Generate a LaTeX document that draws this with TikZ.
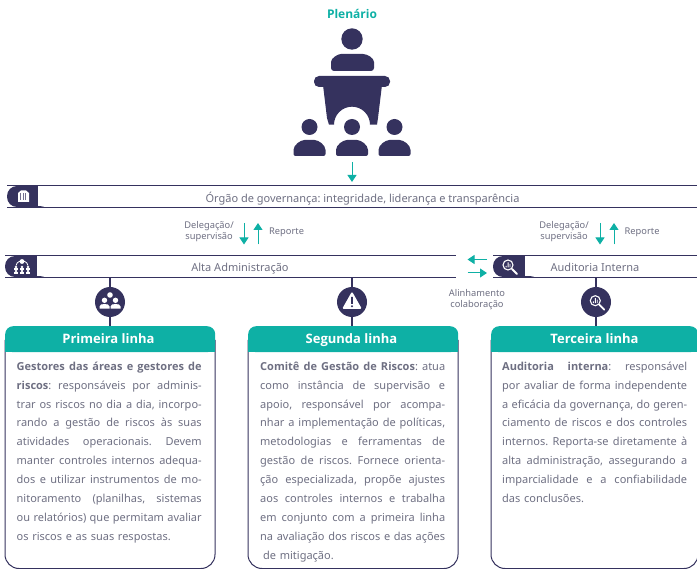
\documentclass[tikz,border=0pt]{standalone}
\usepackage{fontspec}
\setmainfont{Noto Sans}[BoldFont={Open Sans Bold}]
\usetikzlibrary{arrows.meta,positioning,calc}
\definecolor{navy}{HTML}{35325E}
\definecolor{tealc}{HTML}{0EB0A5}
\definecolor{greytxt}{HTML}{6E6F82}
\newcommand{\jline}[1]{{\spaceskip=0pt\xspaceskip=0pt\makebox[185pt][s]{#1}}\\}
\frenchspacing
\tikzset{
  barlabel/.style={text=greytxt,font=\fontsize{11}{13}\selectfont,inner sep=0pt},
  smalllabel/.style={text=greytxt,font=\fontsize{9.3}{11}\selectfont,inner sep=0pt,align=center},
  barline/.style={navy,line width=1pt},
  linkline/.style={navy,line width=1.5pt},
  tealarrow/.style={tealc,line width=1pt,-{Triangle[length=7pt,width=9pt]}},
  iconcircle/.style={circle,fill=navy,minimum size=30pt,inner sep=0pt},
  headbox/.style={fill=tealc,rounded corners=8pt,inner sep=0pt},
  headtext/.style={text=white,font=\fontsize{13}{15}\selectfont\bfseries,inner sep=0pt,anchor=base},
  bodytext/.style={text=greytxt,font=\fontsize{11}{18.95}\selectfont,inner sep=0pt,align=left,text width=185pt,anchor=north west},
  lens/.pic={
    \draw[white,line width=1.1pt] (0,0) circle (5);
    \draw[white,line width=1.8pt,line cap=round] (4,4) -- (9,9);
    \fill[white] (-2.4,0.8) rectangle (-1.5,2.4) (-0.5,-2.6) rectangle (0.5,2.4) (1.5,-1) rectangle (2.4,2.4);
  },
  person/.pic={
    \fill[white] (0,-3.7) circle (2.7);
    \fill[white] (-5,4.7) -- (-5,2.5) .. controls (-5,0.5) and (-2.5,0) .. (0,0) .. controls (2.5,0) and (5,0.5) .. (5,2.5) -- (5,4.7) -- cycle;
  },
}
\begin{document}
\begin{tikzpicture}[x=1pt,y=-1pt]
  \useasboundingbox (0,0) rectangle (697,569);
  \clip (0,0) rectangle (697,569);
  % plenary
  \node[text=tealc,font=\fontsize{12}{14}\selectfont\bfseries,inner sep=0pt] (plenario) at (352,14) {Plenário};
  \fill[navy] (352,39) circle (10.7);
  \fill[navy,rounded corners=3pt] (331,71) -- (331,65) .. controls (331,58) and (338,54) .. (344,54) -- (360,54) .. controls (367,54) and (374,58) .. (374,65) -- (374,71) -- cycle;
  \fill[navy,rounded corners=5pt] (314,76) rectangle (390,87);
  \fill[navy] (323,85) -- (382,85) -- (378,118) -- (377,124.7) -- (370,124.7) arc (0:-180:18) -- (329,124.7) -- (327,118) -- cycle;
  \foreach \x in {309.5,352,394.5} {
    \fill[navy] (\x,127) circle (8);
    \fill[navy,rounded corners=2pt] (\x-16,156) -- (\x-16,152) .. controls (\x-16,145) and (\x-9,140) .. (\x-3,140) -- (\x+3,140) .. controls (\x+9,140) and (\x+16,145) .. (\x+16,152) -- (\x+16,156) -- cycle;
  }
  \coordinate (plenaryout) at (352,162);
  \coordinate (plenaryin) at (352,182);
  \draw[tealarrow] (plenaryout) -- (plenaryin);
  % governance bar
  \node[inner sep=0pt,minimum width=690pt,minimum height=21pt,anchor=north west] (orgao) at (7,186) {};
  \draw[barline] (orgao.north west) -- (orgao.north east);
  \draw[barline] (orgao.south west) -- (orgao.south east);
  \fill[navy,rounded corners=10pt] (7,186) rectangle (50,207);
  \fill[white] (38,186.5) rectangle (55,206.5);
  \fill[white] (18,193) -- (21,190.5) -- (26,190.5) -- (29,193) -- (29,202) -- (18,202) -- cycle;
  \foreach \x in {20,22.5,25} { \fill[navy!70] (\x,193.5) rectangle (\x+1,200.5); }
  \node[barlabel] (orgaolabel) at (362.5,198.5) {Órgão de governança: integridade, liderança e transparência};
  % admin bar
  \node[inner sep=0pt,minimum width=451pt,minimum height=21pt,anchor=north west] (alta) at (5,256) {};
  \draw[barline] (alta.north west) -- (alta.north east);
  \draw[barline] (alta.south west) -- (alta.south east);
  \fill[navy,rounded corners=10pt] (5,256) rectangle (50,277);
  \fill[white] (36.5,256.5) rectangle (55,276.5);
  \fill[white] (22,261.5) circle (2.4);
  \draw[white,line width=0.8pt] (16,265.5) arc (190:300:5.5) (28,265.5) arc (-10:-120:5.5);
  \foreach \x in {16,22,28} {
    \fill[white] (\x,267) circle (1.3) (\x,271) circle (1.3);
    \fill[white] (\x-2,272.5) rectangle (\x+2,274);
    \fill[white] (\x-2,268.5) rectangle (\x+2,269.6);
  }
  \node[barlabel] (altalabel) at (240,268.5) {Alta Administração};
  % audit bar
  \node[inner sep=0pt,minimum width=204pt,minimum height=21pt,anchor=north west] (audit) at (493,256) {};
  \draw[barline] (audit.north west) -- (audit.north east);
  \draw[barline] (audit.south west) -- (audit.south east);
  \fill[navy,rounded corners=10pt] (493,256) rectangle (540,277);
  \fill[white] (525,256.5) rectangle (545,276.5);
  \pic at (508,265) {lens};
  \node[barlabel] (auditlabel) at (595,267) {Auditoria Interna};
  % side labels
  \node[smalllabel,anchor=east] (del1) at (234,232) {Delegação/\\supervisão};
  \node[smalllabel,anchor=west] (rep1) at (269,232.5) {Reporte};
  \node[smalllabel,anchor=east] (del2) at (589,232) {Delegação/\\supervisão};
  \node[smalllabel,anchor=west] (rep2) at (624.5,232.5) {Reporte};
  \node[smalllabel] (alin) at (477,300) {Alinhamento\\colaboração};
  \draw[tealarrow] (244,223) -- (244,244.5);
  \draw[tealarrow] (258,244.5) -- (258,223);
  \draw[tealarrow] (600,223) -- (600,244.5);
  \draw[tealarrow] (614,244.5) -- (614,223);
  \draw[tealarrow] (487,259.5) -- (467.5,259.5);
  \draw[tealarrow] (467.5,273) -- (487,273);
  % three lines
  \foreach \name/\x/\w/\cx/\title in {one/5/210/110/Primeira linha,two/248/210/352/Segunda linha,three/491/207/596/Terceira linha} {
    \draw[navy,line width=1pt,rounded corners=14pt] (\x,340) -- (\x,568.5) -- (\x+\w,568.5) -- (\x+\w,340);
    \node[headbox,minimum width=\w pt,minimum height=26pt,anchor=north west] (head\name) at (\x,326) {};
    \fill[tealc] (\x,340) rectangle (\x+\w,352);
    \node[headtext] (title\name) at (\x+103.5,344) {\title};
    \node[iconcircle] (icon\name) at (\cx,302) {};
    \draw[linkline] (icon\name |- alta.south) -- (icon\name.north);
    \draw[linkline] (icon\name.south) -- (icon\name |- head\name.north);
  }
  % line icons
  \fill[white] (110,295) circle (2.8);
  \pic at (104.5,304) {person};
  \pic at (115.5,304) {person};
  \fill[white,rounded corners=1.2pt] (352,291.5) -- (361.8,308.8) -- (342.2,308.8) -- cycle;
  \fill[navy] (351.1,297) rectangle (352.9,304) (352,306.2) circle (1.1);
  \pic at (595.3,300.7) {lens};
  % texts
  \node[bodytext] (textone) at (16.5,361.5) {%
    \jline{\textbf{Gestores das áreas e gestores de}}
    \jline{\textbf{riscos}: responsáveis por adminis-}
    \jline{trar os riscos no dia a dia, incorpo-}
    \jline{rando a gestão de riscos às suas}
    \jline{atividades operacionais. Devem}
    \jline{manter controles internos adequa-}
    \jline{dos e utilizar instrumentos de mo-}
    \jline{nitoramento (planilhas, sistemas}
    \jline{ou relatórios) que permitam avaliar}
    os riscos e as suas respostas.};
  \node[bodytext] (texttwo) at (260,361.5) {%
    \jline{\textbf{Comitê de Gestão de Riscos}: atua}
    \jline{como instância de supervisão e}
    \jline{apoio, responsável por acompa-}
    \jline{nhar a implementação de políticas,}
    \jline{metodologias e ferramentas de}
    \jline{gestão de riscos. Fornece orienta-}
    \jline{ção especializada, propõe ajustes}
    \jline{aos controles internos e trabalha}
    \jline{em conjunto com a primeira linha}
    \jline{na avaliação dos riscos e das ações}
    \hspace*{3pt}de mitigação.};
  \node[bodytext] (textthree) at (502,361.5) {%
    \jline{\textbf{Auditoria interna}: responsável}
    \jline{por avaliar de forma independente}
    \jline{a eficácia da governança, do geren-}
    \jline{ciamento de riscos e dos controles}
    \jline{internos. Reporta-se diretamente à}
    \jline{alta administração, assegurando a}
    \jline{imparcialidade e a confiabilidade}
    das conclusões.};
\end{tikzpicture}
\end{document}
